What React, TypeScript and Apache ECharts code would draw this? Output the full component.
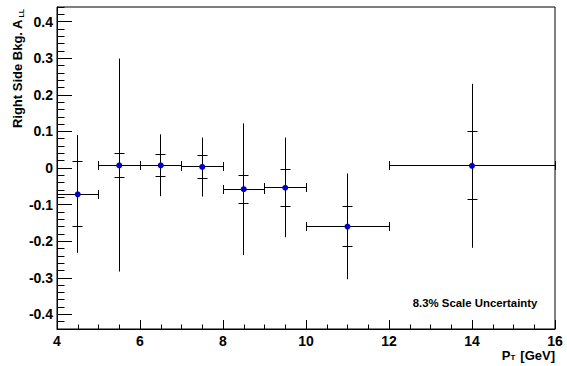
import React, { useEffect, useRef } from "react";
import * as echarts from "echarts";

// ---- data ----
const xCenters = [4.5, 5.5, 6.5, 7.5, 8.5, 9.5, 11, 14];
const binLow = [4, 5, 6, 7, 8, 9, 10, 12];
const binHigh = [5, 6, 7, 8, 9, 10, 12, 16];
const values = [-0.072, 0.007, 0.007, 0.003, -0.058, -0.054, -0.16, 0.006];
const outerHigh = [0.09, 0.299, 0.092, 0.083, 0.122, 0.083, -0.015, 0.23];
const outerLow = [-0.232, -0.283, -0.077, -0.078, -0.238, -0.189, -0.304, -0.218];
const innerHigh = [0.018, 0.039, 0.037, 0.033, -0.02, -0.004, -0.106, 0.1];
const innerLow = [-0.16, -0.025, -0.022, -0.029, -0.097, -0.104, -0.215, -0.087];
const yTickLabels = [-0.4, -0.3, -0.2, -0.1, 0, 0.1, 0.2, 0.3, 0.4];

const FONT = '"Liberation Sans", Arial, Helvetica, sans-serif';

export default function App() {
  const ref = useRef<HTMLDivElement>(null);
  useEffect(() => {
    if (!ref.current) return;
    const chart = echarts.init(ref.current, null, { renderer: "svg" });
    const data = xCenters.map((x, i) => [
      x,
      values[i],
      binLow[i],
      binHigh[i],
      outerLow[i],
      outerHigh[i],
      innerLow[i],
      innerHigh[i],
    ]);
    const ls = { stroke: "#000", lineWidth: 1 };
    const snap = (v: number) => Math.round(v - 0.5) + 0.5;
    chart.setOption({
      animation: false,
      grid: {
        left: 57,
        top: 7,
        right: 12,
        bottom: 37,
        show: true,
        borderColor: "#000",
        borderWidth: 1,
        backgroundColor: "transparent",
      },
      xAxis: [
        {
          type: "value",
          min: 4,
          max: 16,
          interval: 2,
          axisLine: { show: true, onZero: false, lineStyle: { color: "#000", width: 1 } },
          axisTick: { show: true, inside: true, length: 9, lineStyle: { color: "#000" } },
          minorTick: { show: true, splitNumber: 4, length: 4.5, lineStyle: { color: "#000" } },
          axisLabel: {
            show: true,
            color: "#000",
            fontFamily: FONT,
            fontWeight: "bold",
            fontSize: 14,
            margin: 5,
          },
          splitLine: { show: false },
        },
      ],
      yAxis: [
        {
          type: "value",
          min: -0.44,
          max: 0.44,
          position: "left",
          axisLine: { show: true, onZero: false, lineStyle: { color: "#000", width: 1 } },
          axisTick: {
            show: true,
            inside: true,
            length: 15,
            customValues: yTickLabels,
            lineStyle: { color: "#000" },
          },
          axisLabel: {
            show: true,
            customValues: yTickLabels,
            color: "#000",
            fontFamily: FONT,
            fontWeight: "bold",
            fontSize: 14,
            margin: 4,
            formatter: (v: number) => String(Number(v.toFixed(1))),
          },
          splitLine: { show: false },
        },
        {
          type: "value",
          min: -0.44,
          max: 0.44,
          interval: 0.02,
          position: "left",
          offset: 0,
          axisLine: { show: false },
          axisTick: { show: true, inside: true, length: 7.5, lineStyle: { color: "#000" } },
          axisLabel: { show: false },
          splitLine: { show: false },
        },
      ],
      series: [
        {
          type: "custom",
          xAxisIndex: 0,
          yAxisIndex: 0,
          clip: false,
          encode: { x: 0, y: 1 },
          data,
          renderItem: (params: any, api: any) => {
            const x = api.value(0);
            const y = api.value(1);
            const c = api.coord([x, y]);
            const l = api.coord([api.value(2), y]);
            const r = api.coord([api.value(3), y]);
            const ol = api.coord([x, api.value(4)]);
            const oh = api.coord([x, api.value(5)]);
            const il = api.coord([x, api.value(6)]);
            const ih = api.coord([x, api.value(7)]);
            const cx = snap(c[0]);
            const cy = snap(c[1]);
            const lx = snap(l[0]);
            const rx = snap(r[0]);
            return {
              type: "group",
              children: [
                { type: "line", shape: { x1: lx, y1: cy, x2: rx, y2: cy }, style: ls },
                { type: "line", shape: { x1: lx, y1: cy - 4.5, x2: lx, y2: cy + 4.5 }, style: ls },
                { type: "line", shape: { x1: rx, y1: cy - 4.5, x2: rx, y2: cy + 4.5 }, style: ls },
                { type: "line", shape: { x1: cx, y1: ol[1], x2: cx, y2: oh[1] }, style: ls },
                { type: "line", shape: { x1: cx - 5, y1: snap(ih[1]), x2: cx + 5, y2: snap(ih[1]) }, style: ls },
                { type: "line", shape: { x1: cx - 5, y1: snap(il[1]), x2: cx + 5, y2: snap(il[1]) }, style: ls },
                { type: "circle", shape: { cx: c[0], cy: c[1], r: 3 }, style: { fill: "#0000c8" } },
              ],
            };
          },
        },
      ],
      graphic: [
        {
          type: "text",
          x: 17.5,
          y: 19.5,
          rotation: Math.PI / 2,
          style: {
            text: "Right Side Bkg. A",
            fontFamily: FONT,
            fontWeight: "bold",
            fontSize: 13,
            fill: "#000",
            align: "right",
            verticalAlign: "middle",
          },
        },
        {
          type: "text",
          x: 21.5,
          y: 9,
          rotation: Math.PI / 2,
          style: {
            text: "LL",
            fontFamily: FONT,
            fontWeight: "bold",
            fontSize: 7,
            fill: "#000",
            align: "right",
            verticalAlign: "middle",
          },
        },
        {
          type: "text",
          x: 501.7,
          y: 355,
          style: {
            text: "P",
            fontFamily: FONT,
            fontWeight: "bold",
            fontSize: 13,
            fill: "#000",
            align: "left",
            verticalAlign: "middle",
          },
        },
        {
          type: "text",
          x: 510.5,
          y: 357.5,
          style: {
            text: "T",
            fontFamily: FONT,
            fontWeight: "bold",
            fontSize: 8,
            fill: "#000",
            align: "left",
            verticalAlign: "middle",
          },
        },
        {
          type: "text",
          x: 555,
          y: 355,
          style: {
            text: "[GeV]",
            fontFamily: FONT,
            fontWeight: "bold",
            fontSize: 13,
            fill: "#000",
            align: "right",
            verticalAlign: "middle",
          },
        },
        {
          type: "text",
          x: 412.7,
          y: 302.5,
          style: {
            text: "8.3% Scale Uncertainty",
            fontFamily: FONT,
            fontWeight: "bold",
            fontSize: 11.4,
            fill: "#000",
            align: "left",
            verticalAlign: "middle",
          },
        },
      ],
    });
    return () => chart.dispose();
  }, []);
  return (
    <div
      ref={ref}
      style={{ position: "fixed", left: 0, top: 0, width: 567, height: 366, background: "#fff" }}
    />
  );
}
